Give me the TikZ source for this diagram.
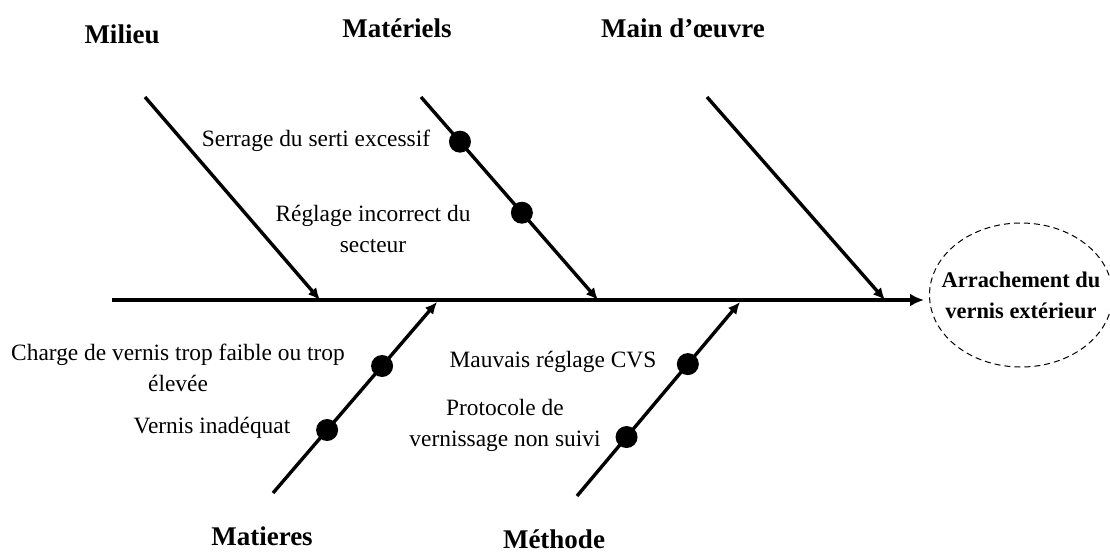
\documentclass[tikz,border=0pt]{standalone}
\usepackage{fontspec}
\setmainfont{Liberation Serif}
\usepackage{tikz}
\usetikzlibrary{shapes.geometric,arrows.meta,positioning}

\begin{document}
\begin{tikzpicture}[
  x=0.5pt,y=-0.5pt,
  spine/.style={line width=1.9pt,-{Latex[length=7pt,width=6.5pt]},shorten >=2.5pt},
  branch/.style={line width=1.7pt,-{Latex[length=6pt,width=5.5pt]}},
  dot/.style={circle,fill=black,inner sep=0pt,minimum size=11pt},
  cause/.style={font=\fontsize{11.7}{15.5}\selectfont,align=center,inner sep=0pt},
  title/.style={font=\fontsize{13.5}{16}\selectfont\bfseries,inner sep=0pt},
  effect/.style={ellipse,draw,dash pattern=on 3pt off 2pt,line width=0.5pt,minimum width=91.5pt,minimum height=72pt,align=center,inner xsep=-10pt,inner ysep=0pt,font=\fontsize{11.2}{15.5}\selectfont\bfseries}
]
  \useasboundingbox (0,0) rectangle (1110,554);

  % effet
  \node[effect] (effect) at (1021,295) {Arrachement du\\vernis extérieur};
  \coordinate (spineS) at (112,300);
  \draw[spine] (spineS) -- (spineS -| effect.west);

  % branches du haut
  \coordinate (milieuS) at (145,97);
  \coordinate (milieuE) at (320,300);
  \coordinate (materielsS) at (421,97);
  \coordinate (materielsE) at (598,300);
  \coordinate (mainS) at (707,97);
  \coordinate (mainE) at (885,300);
  \draw[branch] (milieuS) -- (milieuE);
  \draw[branch] (materielsS) -- node[dot,pos=0.22] (serrage) {} node[dot,pos=0.57] (reglage) {} (materielsE);
  \draw[branch] (mainS) -- (mainE);

  % branches du bas
  \coordinate (matieresS) at (273,493);
  \coordinate (matieresE) at (437,302);
  \coordinate (methodeS) at (577,496);
  \coordinate (methodeE) at (740,302);
  \draw[branch] (matieresS) -- node[dot,pos=0.33] (vernis) {} node[dot,pos=0.665] (charge) {} (matieresE);
  \draw[branch] (methodeS) -- node[dot,pos=0.304] (protocole) {} node[dot,pos=0.68] (cvs) {} (methodeE);

  % familles
  \node[title] (milieu) at (122,34) {Milieu};
  \node[title] (materiels) at (397,28) {Matériels};
  \node[title] (main) at (683,28) {Main d’œuvre};
  \node[title] (matieres) at (262,536) {Matieres};
  \node[title] (methode) at (554,539) {Méthode};

  % causes
  \node[cause] (serrageT) at (316,141) {Serrage du serti excessif};
  \node[cause] (reglageT) at (373,229) {Réglage incorrect du\\secteur};
  \node[cause] (chargeT) at (178,368) {Charge de vernis trop faible ou trop\\élevée};
  \node[cause] (vernisT) at (212,428) {Vernis inadéquat};
  \node[cause] (cvsT) at (553,362) {Mauvais réglage CVS};
  \node[cause] (protocoleT) at (505,425) {Protocole de\\vernissage non suivi};
\end{tikzpicture}
\end{document}
